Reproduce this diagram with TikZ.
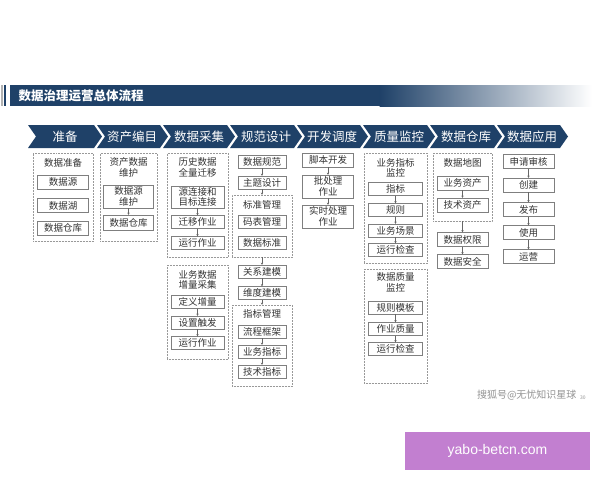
\documentclass[tikz,border=0pt]{standalone}
\usepackage{fontspec}
\setmainfont{Noto Sans CJK SC}
\newfontfamily\wmfont{Liberation Sans}
\usetikzlibrary{arrows.meta}
\definecolor{navy}{HTML}{1F4168}
\definecolor{boxline}{HTML}{7F7F7F}
\definecolor{wmpurple}{HTML}{C27FD0}

\begin{document}
\begin{tikzpicture}[x=1pt,y=-1pt,
  phase/.style={text=white, font=\fontsize{12.5}{12.5}\selectfont},
  box/.style={draw=boxline, fill=white, minimum width=51, minimum height=14, inner sep=0pt, align=center, text=black!80, font=\fontsize{9.5}{10.5}\selectfont},
  grp/.style={draw=gray!80, densely dotted, line width=0.5pt, inner sep=0pt},
  gtitle/.style={align=center, text=black!80, font=\fontsize{9.5}{10.5}\selectfont},
  arr/.style={-{Stealth[length=2.2pt,width=2.4pt]}, line width=0.4pt, black!60}]
\useasboundingbox[fill=white] (0,0) rectangle (600,480);

% title bar
\fill[gray!60] (1,85) rectangle (3,106);
\fill[navy] (4,85) rectangle (6,106);
\fill[navy] (10,85) rectangle (380,106);
\shade[left color=navy, right color=white] (379.5,85) rectangle (592,106);
\node[anchor=west, text=white, font=\bfseries\fontsize{12.5}{12.5}\selectfont] (title) at (15,95.5) {数据治理运营总体流程};

% phases
\fill[navy] (28,125) -- (94,125) -- (102,136.5) -- (94,148) -- (28,148) -- (36,136.5) -- cycle;
\fill[navy] (97,125) -- (160,125) -- (168,136.5) -- (160,148) -- (97,148) -- (105,136.5) -- cycle;
\fill[navy] (163,125) -- (227,125) -- (235,136.5) -- (227,148) -- (163,148) -- (171,136.5) -- cycle;
\fill[navy] (230,125) -- (294,125) -- (302,136.5) -- (294,148) -- (230,148) -- (238,136.5) -- cycle;
\fill[navy] (297,125) -- (360,125) -- (368,136.5) -- (360,148) -- (297,148) -- (305,136.5) -- cycle;
\fill[navy] (363,125) -- (427,125) -- (435,136.5) -- (427,148) -- (363,148) -- (371,136.5) -- cycle;
\fill[navy] (430,125) -- (494,125) -- (502,136.5) -- (494,148) -- (430,148) -- (438,136.5) -- cycle;
\fill[navy] (497,125) -- (560,125) -- (568,136.5) -- (560,148) -- (497,148) -- (505,136.5) -- cycle;
\node[phase] (ph1) at (65,137) {准备};
\node[phase] (ph2) at (132,137) {资产编目};
\node[phase] (ph3) at (199,137) {数据采集};
\node[phase] (ph4) at (266,137) {规范设计};
\node[phase] (ph5) at (332,137) {开发调度};
\node[phase] (ph6) at (399,137) {质量监控};
\node[phase] (ph7) at (466,137) {数据仓库};
\node[phase] (ph8) at (532,137) {数据应用};

% 准备
\node[grp, minimum width=60, minimum height=88] (c1) at (63,197) {};
\node[gtitle] (t1) at (63,163) {数据准备};
\node[box] (b11) at (63,182) {数据源};
\node[box] (b12) at (63,205.5) {数据湖};
\node[box] (b13) at (63,228) {数据仓库};

% 资产编目
\node[grp, minimum width=57, minimum height=88] (c2) at (128.5,197) {};
\node[gtitle] (t2) at (128.5,167.5) {资产数据\\维护};
\node[box, minimum width=50, minimum height=23] (b21) at (128.5,196.5) {数据源\\维护};
\node[box, minimum width=50, minimum height=15] (b22) at (128.5,222.5) {数据仓库};
\draw[arr] (b21.south) -- (b22.north);

% 数据采集
\node[grp, minimum width=61, minimum height=104] (c31) at (197.5,205) {};
\node[gtitle] (t31) at (197.5,167.5) {历史数据\\全量迁移};
\node[box, minimum width=53, minimum height=22] (b31) at (197.5,197) {源连接和\\目标连接};
\node[box, minimum width=53, minimum height=13] (b32) at (197.5,222) {迁移作业};
\node[box, minimum width=53, minimum height=13] (b33) at (197.5,243) {运行作业};
\draw[arr] (b31.south) -- (b32.north);
\draw[arr] (b32.south) -- (b33.north);
\node[grp, minimum width=61, minimum height=94] (c32) at (197.5,312) {};
\node[gtitle] (t32) at (197.5,280) {业务数据\\增量采集};
\node[box, minimum width=53, minimum height=13] (b34) at (197.5,302) {定义增量};
\node[box, minimum width=53, minimum height=13] (b35) at (197.5,322.5) {设置触发};
\node[box, minimum width=53, minimum height=13] (b36) at (197.5,343) {运行作业};
\draw[arr] (b34.south) -- (b35.north);
\draw[arr] (b35.south) -- (b36.north);

% 规范设计
\node[box, minimum width=48, minimum height=13] (b41) at (262,161.5) {数据规范};
\node[box, minimum width=48, minimum height=13] (b42) at (262,182.5) {主题设计};
\node[grp, minimum width=60, minimum height=62] (c41) at (262,226) {};
\node[gtitle] (t41) at (262,205) {标准管理};
\node[box, minimum width=48, minimum height=13] (b43) at (262,221.5) {码表管理};
\node[box, minimum width=48, minimum height=13] (b44) at (262,242.5) {数据标准};
\node[box, minimum width=48, minimum height=13] (b45) at (262,271.5) {关系建模};
\node[box, minimum width=48, minimum height=13] (b46) at (262,293) {维度建模};
\node[grp, minimum width=60, minimum height=81] (c42) at (262,345.5) {};
\node[gtitle] (t42) at (262,314) {指标管理};
\node[box, minimum width=48, minimum height=13] (b47) at (262,331.5) {流程框架};
\node[box, minimum width=48, minimum height=13] (b48) at (262,351.5) {业务指标};
\node[box, minimum width=48, minimum height=13] (b49) at (262,371.5) {技术指标};
\draw[arr] (b41.south) -- (b42.north);
\draw[arr] (b42.south) -- (c41.north);
\draw[arr] (c41.south) -- (b45.north);
\draw[arr] (b45.south) -- (b46.north);
\draw[arr] (b46.south) -- (c42.north);
\draw[arr] (b47.south) -- (b48.north);
\draw[arr] (b48.south) -- (b49.north);

% 开发调度
\node[box] (b51) at (328,160) {脚本开发};
\node[box, minimum height=23] (b52) at (328,186.5) {批处理\\作业};
\node[box, minimum height=23] (b53) at (328,216.5) {实时处理\\作业};
\draw[arr] (b51.south) -- (b52.north);
\draw[arr] (b52.south) -- (b53.north);

% 质量监控
\node[grp, minimum width=63, minimum height=110] (c61) at (395.5,208) {};
\node[gtitle] (t61) at (395.5,168) {业务指标\\监控};
\node[box, minimum width=54, minimum height=13] (b61) at (395.5,189) {指标};
\node[box, minimum width=54, minimum height=13] (b62) at (395.5,210) {规则};
\node[box, minimum width=54, minimum height=13] (b63) at (395.5,230.5) {业务场景};
\node[box, minimum width=54, minimum height=13] (b64) at (395.5,250) {运行检查};
\draw[arr] (b61.south) -- (b62.north);
\draw[arr] (b62.south) -- (b63.north);
\draw[arr] (b63.south) -- (b64.north);
\node[grp, minimum width=63, minimum height=114] (c62) at (395.5,326) {};
\node[gtitle] (t62) at (395.5,282.5) {数据质量\\监控};
\node[box, minimum width=54, minimum height=13] (b65) at (395.5,307.5) {规则模板};
\node[box, minimum width=54, minimum height=13] (b66) at (395.5,329) {作业质量};
\node[box, minimum width=54, minimum height=13] (b67) at (395.5,349) {运行检查};
\draw[arr] (b65.south) -- (b66.north);
\draw[arr] (b66.south) -- (b67.north);

% 数据仓库
\node[grp, minimum width=59, minimum height=68] (c7) at (462.5,187) {};
\node[gtitle] (t7) at (462.5,163) {数据地图};
\node[box] (b71) at (462.5,183) {业务资产};
\node[box] (b72) at (462.5,205) {技术资产};
\node[box] (b73) at (462.5,239.5) {数据权限};
\node[box] (b74) at (462.5,261.5) {数据安全};
\draw[arr] (b71.south) -- (b72.north);
\draw[arr] (c7.south) -- (b73.north);
\draw[arr] (b73.south) -- (b74.north);

% 数据应用
\node[box] (b81) at (528.5,161.5) {申请审核};
\node[box] (b82) at (528.5,185) {创建};
\node[box] (b83) at (528.5,209.5) {发布};
\node[box] (b84) at (528.5,232.5) {使用};
\node[box] (b85) at (528.5,256.5) {运营};
\draw[arr] (b81.south) -- (b82.north);
\draw[arr] (b82.south) -- (b83.north);
\draw[arr] (b83.south) -- (b84.north);
\draw[arr] (b84.south) -- (b85.north);

% watermarks
\node[anchor=east, text=gray!85, font=\fontsize{10}{11}\selectfont] (src) at (580,395) {搜狐号@无忧知识星球};
\node[anchor=west, text=gray!85, font=\fontsize{5}{5}\selectfont, inner sep=0pt] (pg) at (580,398) {30};
\node[fill=wmpurple, minimum width=185, minimum height=38, text=white, font=\wmfont\fontsize{14}{14}\selectfont] (wm) at (497.5,451) {yabo-betcn.com};
\end{tikzpicture}
\end{document}
